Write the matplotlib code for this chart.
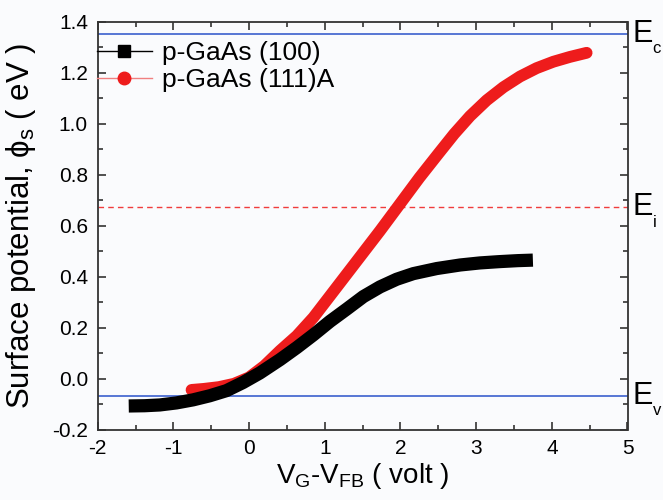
import matplotlib
matplotlib.use("Agg")
import matplotlib.pyplot as plt
from matplotlib.lines import Line2D
from matplotlib.ticker import MultipleLocator, FormatStrFormatter

plt.rcParams['font.family'] = ['Liberation Sans', 'DejaVu Sans']
plt.rcParams['mathtext.fontset'] = 'custom'
plt.rcParams['mathtext.rm'] = 'Liberation Sans'
plt.rcParams['mathtext.it'] = 'Liberation Sans'
plt.rcParams['axes.unicode_minus'] = False

# data
x_100 = [-1.59, -1.38, -1.18, -0.96, -0.74, -0.52, -0.30, -0.08, 0.14, 0.41, 0.63, 0.85,
         1.07, 1.29, 1.51, 1.73, 1.95, 2.17, 2.48, 2.79, 3.05, 3.3, 3.55, 3.75]
y_100 = [-0.107, -0.106, -0.103, -0.095, -0.083, -0.067, -0.047, -0.015, 0.022, 0.075, 0.122, 0.172,
         0.225, 0.273, 0.322, 0.36, 0.39, 0.412, 0.432, 0.446, 0.454, 0.459, 0.463, 0.465]
x_111 = [-0.76, -0.6, -0.4, -0.2, 0.0, 0.2, 0.41, 0.63, 0.85, 1.07, 1.29, 1.51, 1.73, 1.99,
         2.25, 2.5, 2.71, 2.92, 3.14, 3.36, 3.58, 3.8, 4.02, 4.24, 4.46]
y_111 = [-0.044, -0.04, -0.033, -0.02, 0.005, 0.05, 0.11, 0.168, 0.24, 0.325, 0.41, 0.495, 0.58, 0.684,
         0.788, 0.882, 0.96, 1.03, 1.092, 1.143, 1.185, 1.218, 1.243, 1.262, 1.278]
E_c, E_i, E_v = 1.352, 0.673, -0.068
band_letters = ['c', 'i', 'v']
legend_labels = ['p-GaAs (100)', 'p-GaAs (111)A']

bg = '#fafbfd'
fig = plt.figure(figsize=(6.63, 5.0), dpi=100, facecolor=bg)
ax = fig.add_axes([97.7/663, 1 - 429.7/500, (627.5-97.7)/663, (429.7-21.7)/500])
ax.set_facecolor(bg)

ax.axhline(E_c, color='#3a5fcd', lw=1.2)
ax.axhline(E_v, color='#3a5fcd', lw=1.2)
ax.axhline(E_i, color='#f03c3c', lw=1.0, ls=(0, (4, 3)))

ax.plot(x_100, y_100, color='black', lw=9.5, solid_capstyle='butt', solid_joinstyle='round', zorder=3)
ax.plot(x_111, y_111, color='#ee1c1c', lw=8.5, solid_capstyle='round', solid_joinstyle='round', zorder=2)

ax.set_xlim(-2, 5)
ax.set_ylim(-0.2, 1.4)
ax.xaxis.set_major_locator(MultipleLocator(1))
ax.xaxis.set_minor_locator(MultipleLocator(0.5))
ax.yaxis.set_major_locator(MultipleLocator(0.2))
ax.yaxis.set_minor_locator(MultipleLocator(0.1))
ax.yaxis.set_major_formatter(FormatStrFormatter('%.1f'))
ax.tick_params(which='both', direction='in', top=True, right=True, labelsize=15, width=1.2, color='#333333')
ax.tick_params(which='major', length=6, pad=7)
ax.tick_params(which='minor', length=3.5)
for s in ax.spines.values():
    s.set_linewidth(1.3)
    s.set_color('#333333')

ax.set_xlabel('V$_G$-V$_{FB}$ ( volt )', fontsize=20, labelpad=2)
ax.set_ylabel('Surface potential, $\\phi_s$ ( eV )', fontsize=22.5, labelpad=10)

for letter, val in zip(band_letters, [E_c, E_i, E_v]):
    ax.annotate('E', xy=(1, val), xycoords=('axes fraction', 'data'),
                xytext=(3.6, -5.8), textcoords='offset points',
                fontsize=22, ha='left', va='baseline', annotation_clip=False)
    ax.annotate(letter, xy=(1, val), xycoords=('axes fraction', 'data'),
                xytext=(18.0, -14.0), textcoords='offset points',
                fontsize=12, ha='left', va='baseline', annotation_clip=False)

handles = [Line2D([], [], color='black', lw=1, marker='s', ms=8),
           Line2D([], [], color='#f08080', lw=1, marker='o', ms=9, mfc='#ee1c1c', mec='#ee1c1c')]
ax.legend(handles, legend_labels, loc='upper left', bbox_to_anchor=(-0.002, 0.952), frameon=False,
          fontsize=19, handlelength=2.1, handletextpad=0.38, labelspacing=0.1, borderaxespad=0,
          borderpad=0)

fig.savefig('out.png', dpi=100, facecolor=fig.get_facecolor())
